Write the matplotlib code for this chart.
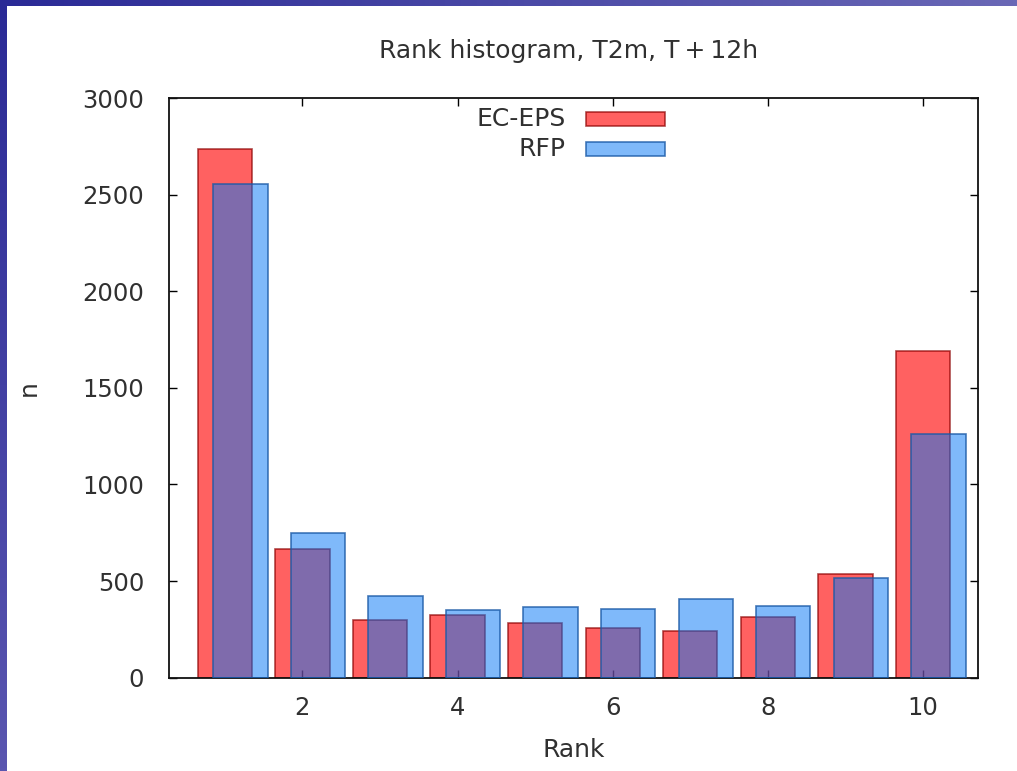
import numpy as np
import matplotlib
matplotlib.use("Agg")
import matplotlib.pyplot as plt
from matplotlib.patches import Rectangle

# datos
rangos = [1, 2, 3, 4, 5, 6, 7, 8, 9, 10]
ec_eps = [2735, 664, 299, 324, 283, 259, 242, 316, 538, 1691]
rfp = [2553, 747, 423, 349, 364, 356, 407, 373, 514, 1260]
nombres = ["EC-EPS", "RFP"]

plt.rcParams["font.family"] = "DejaVu Sans"
plt.rcParams["text.color"] = "#303030"
plt.rcParams["axes.labelcolor"] = "#303030"

fig = plt.figure(figsize=(10.17, 7.71), dpi=100)

# borde azul de la diapositiva
top = fig.add_axes([0, 1 - 6 / 771, 1, 6 / 771])
top.imshow(np.linspace(0, 1, 256).reshape(1, -1), cmap=matplotlib.colors.LinearSegmentedColormap.from_list("t", ["#2a2a96", "#6a68b6"]), aspect="auto", extent=[0, 1, 0, 1])
top.axis("off")
left = fig.add_axes([0, 0, 7 / 1017, 1])
left.imshow(np.linspace(0, 1, 256).reshape(-1, 1), cmap=matplotlib.colors.LinearSegmentedColormap.from_list("l", ["#2a2a96", "#5a56b0"]), aspect="auto", extent=[0, 1, 0, 1])
left.axis("off")

ax = fig.add_axes([169 / 1017, 1 - 677.7 / 771, 809 / 1017, 579.7 / 771])

x = np.array(rangos)
ancho = 0.7
rojo = (1.0, 0.0, 0.0, 0.62)
azul = (0.0, 0.46, 0.97, 0.5)
borde_rojo = (0.55, 0, 0, 0.7)
borde_azul = (0.1, 0.35, 0.65, 0.8)
ax.bar(x, ec_eps, width=ancho, color=rojo, edgecolor=borde_rojo, linewidth=1.2, zorder=2)
ax.bar(x + 0.2, rfp, width=ancho, color=azul, edgecolor=borde_azul, linewidth=1.2, zorder=3)

ax.set_xlim(0.28, 10.71)
ax.set_ylim(0, 3000)
ax.set_xticks([2, 4, 6, 8, 10])
ax.set_yticks([0, 500, 1000, 1500, 2000, 2500, 3000])

ax.tick_params(direction="in", length=6, width=1, top=True, right=True,
               labelsize=17.5, labelcolor="#303030")
ax.tick_params(axis="y", pad=18)
ax.tick_params(axis="x", pad=13)
for s in ax.spines.values():
    s.set_linewidth(1.3)
    s.set_color("#111111")

ax.set_title("Rank histogram, T2m, T\u2009+\u200912h", fontsize=18, pad=29, x=0.494)
ax.set_xlabel("Rank", fontsize=18, labelpad=13)
ax.set_ylabel("n", fontsize=18, labelpad=30)

# leyenda manual
colores = [rojo, azul]
bordes = [borde_rojo, borde_azul]
ys = [0.964, 0.912]
for nombre, c, b, y in zip(nombres, colores, bordes, ys):
    ax.text(0.490, y, nombre, transform=ax.transAxes, ha="right", va="center", fontsize=18)
    ax.add_patch(Rectangle((0.516, y - 0.012), 0.097, 0.024, transform=ax.transAxes,
                           facecolor=c, edgecolor=b, linewidth=1.2, zorder=4))

plt.savefig("out.png", dpi=100)
plt.close()
